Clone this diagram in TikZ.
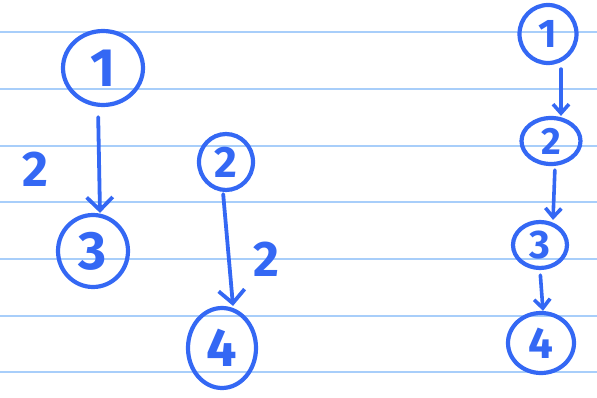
\documentclass[tikz,border=0pt]{standalone}
\usepackage{fontspec}
\setmainfont{Fira Sans}
\usetikzlibrary{
    arrows.meta,
    shapes.geometric,
    positioning
}
\definecolor{ink}{RGB}{52,104,244}
\definecolor{rule}{RGB}{168,206,250}
\tikzset{vtx/.style={ellipse, draw=ink, line width=4.2pt, inner sep=0pt, text=ink}}
\tikzset{wlab/.style={text=ink, inner sep=0pt, font=\fontsize{50}{50}\selectfont\bfseries}}
\tikzset{link/.style={draw=ink, line width=3.8pt, line cap=round, -{Straight Barb[length=13pt, width=26pt, line width=3.8pt]}}}
\tikzset{slink/.style={draw=ink, line width=3.6pt, line cap=round, -{Straight Barb[length=9pt, width=16pt, line width=3.6pt]}}}

\begin{document}
\begin{tikzpicture}[x=1pt, y=-1pt]
                        \useasboundingbox (0, 0) rectangle (597, 398);
                        % ruled paper
                        \foreach \y in {32, 89, 146, 202, 259, 316, 372}
                            \draw[rule, line width=1.6pt] (0, \y) -- (597, \y);

                        \node[vtx, minimum width=80pt, minimum height=74pt, font=\fontsize{54}{54}\selectfont\bfseries] (a1) at (103, 68) {1};
                        \node[vtx, minimum width=70pt, minimum height=72pt, font=\fontsize{54}{54}\selectfont\bfseries] (a3) at (93, 251) {3};
                        \node[vtx, minimum width=54pt, minimum height=56pt, font=\fontsize{44}{44}\selectfont\bfseries] (b2) at (226, 162) {2};
                        \node[vtx, minimum width=68pt, minimum height=80pt, font=\fontsize{54}{54}\selectfont\bfseries] (b4) at (222, 348) {4};

                        \node[vtx, minimum width=57pt, minimum height=58pt, font=\fontsize{40}{40}\selectfont\bfseries] (c1) at (548, 34) {1};
                        \node[vtx, minimum width=59pt, minimum height=46pt, font=\fontsize{38}{38}\selectfont\bfseries] (c2) at (551, 141) {2};
                        \node[vtx, minimum width=54pt, minimum height=46pt, font=\fontsize{40}{40}\selectfont\bfseries] (c3) at (540, 245) {3};
                        \node[vtx, minimum width=66pt, minimum height=60pt, font=\fontsize{44}{44}\selectfont\bfseries] (c4) at (541, 343) {4};

                        \node[wlab] (w1) at (35, 169) {2};
                        \node[wlab] (w2) at (266, 259) {2};

                        \draw[link, shorten <=10pt] ([xshift=-5pt]a1.south) -- ([xshift=7pt]a3.north);
                        \draw[link, shorten <=2pt] ([xshift=-3pt]b2.south) -- ([xshift=11pt]b4.north);
                        \draw[slink, shorten <=4pt] ([xshift=13pt]c1.south) -- ([xshift=10pt]c2.north);
                        \draw[slink, shorten <=4pt] ([xshift=4pt]c2.south) -- ([xshift=13pt]c3.north);
                        \draw[slink, shorten <=5pt] (c3.south) -- ([xshift=2pt]c4.north);
                    \end{tikzpicture}
\end{document}
